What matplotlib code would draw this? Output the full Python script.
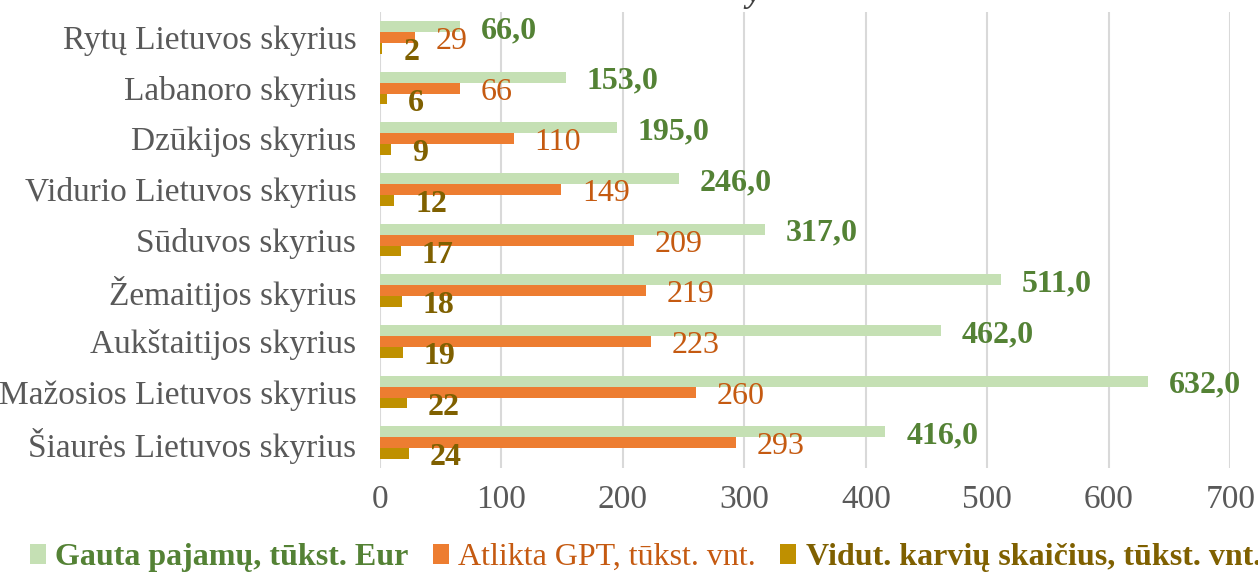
import matplotlib.pyplot as plt
import numpy as np

plt.rcParams['font.family'] = ['Liberation Serif', 'DejaVu Serif']

# data (top to bottom as in chart)
skyriai = ['Rytų Lietuvos skyrius', 'Labanoro skyrius', 'Dzūkijos skyrius',
           'Vidurio Lietuvos skyrius', 'Sūduvos skyrius', 'Žemaitijos skyrius',
           'Aukštaitijos skyrius', 'Mažosios Lietuvos skyrius', 'Šiaurės Lietuvos skyrius']
pajamos = [66.0, 153.0, 195.0, 246.0, 317.0, 511.0, 462.0, 632.0, 416.0]
gpt = [29, 66, 110, 149, 209, 219, 223, 260, 293]
karves = [2, 6, 9, 12, 17, 18, 19, 22, 24]

series_names = ['Gauta pajamų, tūkst. Eur', 'Atlikta GPT, tūkst. vnt.',
                'Vidut. karvių skaičius, tūkst. vnt.']
bar_colors = ['#C5E0B4', '#ED7D31', '#BF9000']
text_colors = ['#548235', '#C55A11', '#7F6000']
weights = ['bold', 'normal', 'bold']

fig = plt.figure(figsize=(12.58, 5.75), dpi=100)
ax = fig.add_axes([0.302, 0.186, 0.676, 0.793])

y = np.arange(len(skyriai))
h = 0.215
offsets = [-h, 0, h]
datasets = [pajamos, gpt, karves]

for vals, off, bc, tc, w, name in zip(datasets, offsets, bar_colors, text_colors, weights, series_names):
    bars = ax.barh(y + off, vals, height=h, color=bc, label=name, zorder=2)
    if name == series_names[0]:
        labs = [('%.1f' % v).replace('.', ',') for v in vals]
    else:
        labs = [str(v) for v in vals]
    anns = ax.bar_label(bars, labels=labs, padding=15, fontsize=23, color=tc, fontweight=w)
    for a in anns:
        a.xyann = (15, -3)

ax.set_ylim(len(skyriai) - 0.5, -0.5)
ax.set_xlim(0, 700)
ax.set_xticks(np.arange(0, 701, 100))
ax.set_yticks(y)
ax.set_yticklabels(skyriai)
ax.tick_params(axis='both', length=0, labelsize=24, colors='#595959')
ax.tick_params(axis='y', pad=17)
ax.tick_params(axis='x', pad=12)
ax.grid(axis='x', color='#D9D9D9', linewidth=1.5, zorder=0)
for s in ax.spines.values():
    s.set_visible(False)

leg = fig.legend(loc='lower center', bbox_to_anchor=(0.513, -0.045), ncol=3, frameon=False,
                 fontsize=23, handlelength=0.5, handleheight=0.6, handletextpad=0.3,
                 columnspacing=0.75)
for t, tc, w in zip(leg.get_texts(), text_colors, weights):
    t.set_color(tc)
    t.set_fontweight(w)

# cut-off title at the top edge
fig.text(0.599, 1.012, 'y', fontsize=24, fontweight='bold', style='italic',
         color='#404040', ha='center', va='center')

fig.savefig('out.png', dpi=100)
